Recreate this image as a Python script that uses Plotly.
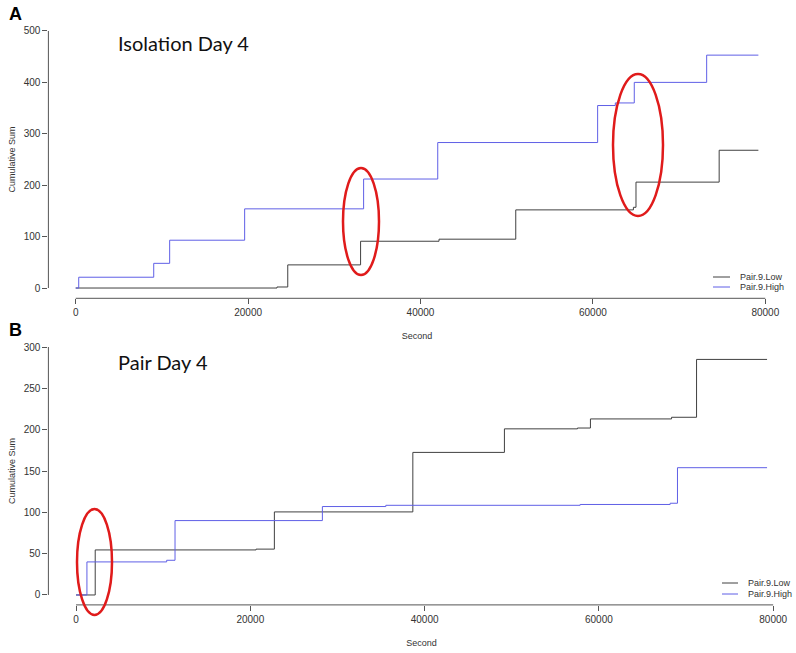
import plotly.graph_objects as go

# ---------------- data ----------------
# Panel A: Isolation Day 4
iso_high_t = [0, 350, 9050, 10900, 19600, 33400, 42000, 60550, 62600, 64800, 73200, 79200]
iso_high_v = [0, 21, 48, 93, 154, 212, 283, 355, 360, 400, 453, 453]
iso_low_t = [0, 23350, 24600, 33050, 42150, 51050, 64700, 65000, 74650, 79200]
iso_low_v = [0, 2, 45, 91, 95, 152, 157, 206, 268, 268]

# Panel B: Pair Day 4
pair_high_t = [0, 1250, 10400, 11360, 28270, 35550, 57850, 68180, 69020, 79300]
pair_high_v = [0, 40, 42, 90, 107, 108.5, 109.5, 111, 154, 154]
pair_low_t = [0, 2200, 20660, 22760, 38650, 49160, 57540, 59030, 68340, 71210, 79300]
pair_low_v = [0, 54.5, 55.5, 100.5, 172.5, 201, 202, 213, 215, 285, 285]

x_ticks = [0, 20000, 40000, 60000, 80000]
y_ticks_a = [0, 100, 200, 300, 400, 500]
y_ticks_b = [0, 50, 100, 150, 200, 250, 300]
series_names = ["Pair.9.Low", "Pair.9.High"]
panel_titles = ["Isolation Day 4", "Pair Day 4"]
panel_letters = ["A", "B"]

# ---------------- style ----------------
W, H = 796, 653
C_LOW = "#404040"
C_HIGH = "#5f5fe6"
C_AXIS = "#555555"
C_TEXT = "#333333"
C_RED = "#e01b1b"
FONT = "Liberation Sans, Arial, sans-serif"


def px_x(p):
    return p / W


def px_y(p):
    return 1 - p / H


fig = go.Figure()
fig.add_trace(go.Scatter(x=iso_low_t, y=iso_low_v, mode="lines", line_shape="hv",
                         line=dict(color=C_LOW, width=1), name=series_names[0],
                         xaxis="x", yaxis="y", showlegend=False))
fig.add_trace(go.Scatter(x=iso_high_t, y=iso_high_v, mode="lines", line_shape="hv",
                         line=dict(color=C_HIGH, width=1), name=series_names[1],
                         xaxis="x", yaxis="y", showlegend=False))
fig.add_trace(go.Scatter(x=pair_low_t, y=pair_low_v, mode="lines", line_shape="hv",
                         line=dict(color=C_LOW, width=1), name=series_names[0],
                         xaxis="x2", yaxis="y2", showlegend=False))
fig.add_trace(go.Scatter(x=pair_high_t, y=pair_high_v, mode="lines", line_shape="hv",
                         line=dict(color=C_HIGH, width=1), name=series_names[1],
                         xaxis="x2", yaxis="y2", showlegend=False))

tickfont = dict(family=FONT, size=10, color=C_TEXT)
titlefont = dict(family=FONT, size=9, color=C_TEXT)

common_x = dict(tickvals=x_ticks, ticktext=[str(v) for v in x_ticks], ticks="outside",
                ticklen=5, tickcolor=C_AXIS, tickwidth=1, showgrid=False, zeroline=False,
                showline=False, tickfont=tickfont, automargin=False,
                title=dict(text="Second", font=titlefont, standoff=15))
common_y = dict(ticks="outside", ticklen=5, tickcolor=C_AXIS, tickwidth=1, showgrid=False,
                zeroline=False, showline=False, tickfont=tickfont, automargin=False,
                title=dict(text="Cumulative Sum", font=titlefont, standoff=6))

# pixel geometry of the two plot regions
A_left, A_right, A_top, A_bot = 48.4, 785.7, 20.7, 298.3
B_left, B_right, B_top, B_bot = 48.4, 794.7, 337.1, 604.9

fig.update_layout(
    width=W, height=H, margin=dict(l=0, r=0, t=0, b=0),
    paper_bgcolor="white", plot_bgcolor="white", showlegend=False,
    xaxis=dict(common_x, domain=[px_x(A_left), px_x(A_right)], range=[-3168, 82368], anchor="y"),
    yaxis=dict(common_y, domain=[px_y(A_bot), px_y(A_top)], range=[-20, 520], anchor="x",
               tickvals=y_ticks_a),
    xaxis2=dict(common_x, domain=[px_x(B_left), px_x(B_right)], range=[-3172, 82472], anchor="y2"),
    yaxis2=dict(common_y, domain=[px_y(B_bot), px_y(B_top)], range=[-12, 312], anchor="x2",
                tickvals=y_ticks_b),
)

shapes = []
# R-style detached axis lines spanning only the tick range
for xa, ya, yt in (("x", "y", y_ticks_a), ("x2", "y2", y_ticks_b)):
    shapes.append(dict(type="line", xref=xa, yref=ya + " domain", x0=x_ticks[0], x1=x_ticks[-1],
                       y0=0, y1=0, line=dict(color=C_AXIS, width=1)))
    shapes.append(dict(type="line", xref=xa + " domain", yref=ya, x0=0, x1=0,
                       y0=yt[0], y1=yt[-1], line=dict(color=C_AXIS, width=1)))

# red highlight ellipses (pixel positions from the reference)
for (x0, x1, y0, y1) in ((343, 379, 168, 275), (613, 663, 74, 216), (77, 112, 509, 615)):
    shapes.append(dict(type="circle", xref="paper", yref="paper",
                       x0=px_x(x0), x1=px_x(x1), y0=px_y(y1), y1=px_y(y0),
                       line=dict(color=C_RED, width=2.5)))

# manual legends (line samples)
annotations = []
for (lx0, lx1, tx, ys) in ((713, 730, 738, (277, 287)), (722, 738, 746, (583, 594))):
    for name, col, yy in zip(series_names, (C_LOW, C_HIGH), ys):
        shapes.append(dict(type="line", xref="paper", yref="paper", x0=px_x(lx0), x1=px_x(lx1),
                           y0=px_y(yy), y1=px_y(yy), line=dict(color=col, width=1)))
        annotations.append(dict(text=name, xref="paper", yref="paper", x=px_x(tx), y=px_y(yy),
                                xanchor="left", yanchor="middle", showarrow=False,
                                font=dict(family=FONT, size=9, color=C_TEXT)))

# panel titles and letters
for t, ty in zip(panel_titles, (43, 362)):
    annotations.append(dict(text=t, xref="paper", yref="paper", x=px_x(116), y=px_y(ty),
                            xanchor="left", yanchor="middle", showarrow=False,
                            font=dict(family="Lato, Open Sans, sans-serif", size=20, color="#111111")))
for t, ty in zip(panel_letters, (14, 330)):
    annotations.append(dict(text="<b>%s</b>" % t, xref="paper", yref="paper", x=px_x(7), y=px_y(ty),
                            xanchor="left", yanchor="middle", showarrow=False,
                            font=dict(family=FONT, size=18, color="#000000")))

fig.update_layout(shapes=shapes, annotations=annotations)
fig.write_html("out.html", config={"displayModeBar": False},
               post_script="document.body.style.margin='0px';document.body.style.overflow='hidden';")
